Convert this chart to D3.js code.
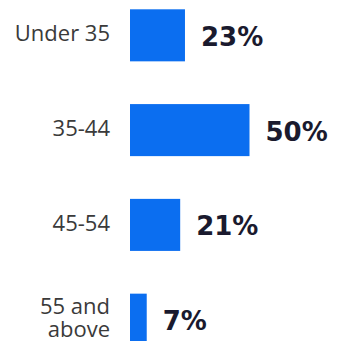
<!DOCTYPE html>
<html><head><meta charset="utf-8">
<script src="https://cdn.jsdelivr.net/npm/d3@7"></script>
<style>html,body{margin:0;padding:0;background:#fff;}svg{display:block;}</style>
</head><body>
<svg id="chart" width="337" height="341"></svg>
<script>
const categories = [["Under 35"], ["35-44"], ["45-54"], ["55 and", "above"]];
const categoryKeys = ["Under 35", "35-44", "45-54", "55 and above"];
const values = [23, 50, 21, 7];
const valueLabels = ["23%", "50%", "21%", "7%"];

const svg = d3.select("#chart");
const x0 = 130;
const x = d3.scaleLinear().domain([0, 50]).range([0, 119.5]);
const y = d3.scaleBand().domain(categoryKeys).range([9.3, 345.7]).paddingInner(0.451).paddingOuter(0);

svg.selectAll("rect.bar").data(values).enter().append("rect")
  .attr("class", "bar")
  .attr("x", x0)
  .attr("y", (d, i) => y(categoryKeys[i]))
  .attr("width", d => x(d))
  .attr("height", y.bandwidth())
  .attr("fill", "#0b6ef0");

svg.selectAll("text.val").data(values).enter().append("text")
  .attr("class", "val")
  .attr("x", d => x0 + x(d) + 16)
  .attr("y", (d, i) => y(categoryKeys[i]) + y.bandwidth() / 2 + 10.5)
  .attr("font-family", "DejaVu Sans")
  .attr("font-weight", "bold")
  .attr("font-size", 26)
  .attr("fill", "#1a1a2e")
  .text((d, i) => valueLabels[i]);

const labels = svg.selectAll("text.cat").data(categories).enter().append("text")
  .attr("class", "cat")
  .attr("text-anchor", "end")
  .attr("font-family", "Open Sans")
  .attr("font-size", 22)
  .attr("fill", "#3a3a3a")
  .attr("transform", (d, i) => {
    const c = y(categoryKeys[i]) + y.bandwidth() / 2;
    const base = c + 6 - (d.length - 1) * 22.6 / 2;
    return `translate(110,${base})`;
  });
labels.each(function(d) {
  d3.select(this).selectAll("tspan").data(d).enter().append("tspan")
    .attr("x", 0)
    .attr("dy", (t, j) => j === 0 ? 0 : 22.6)
    .text(t => t);
});
</script>
</body></html>
